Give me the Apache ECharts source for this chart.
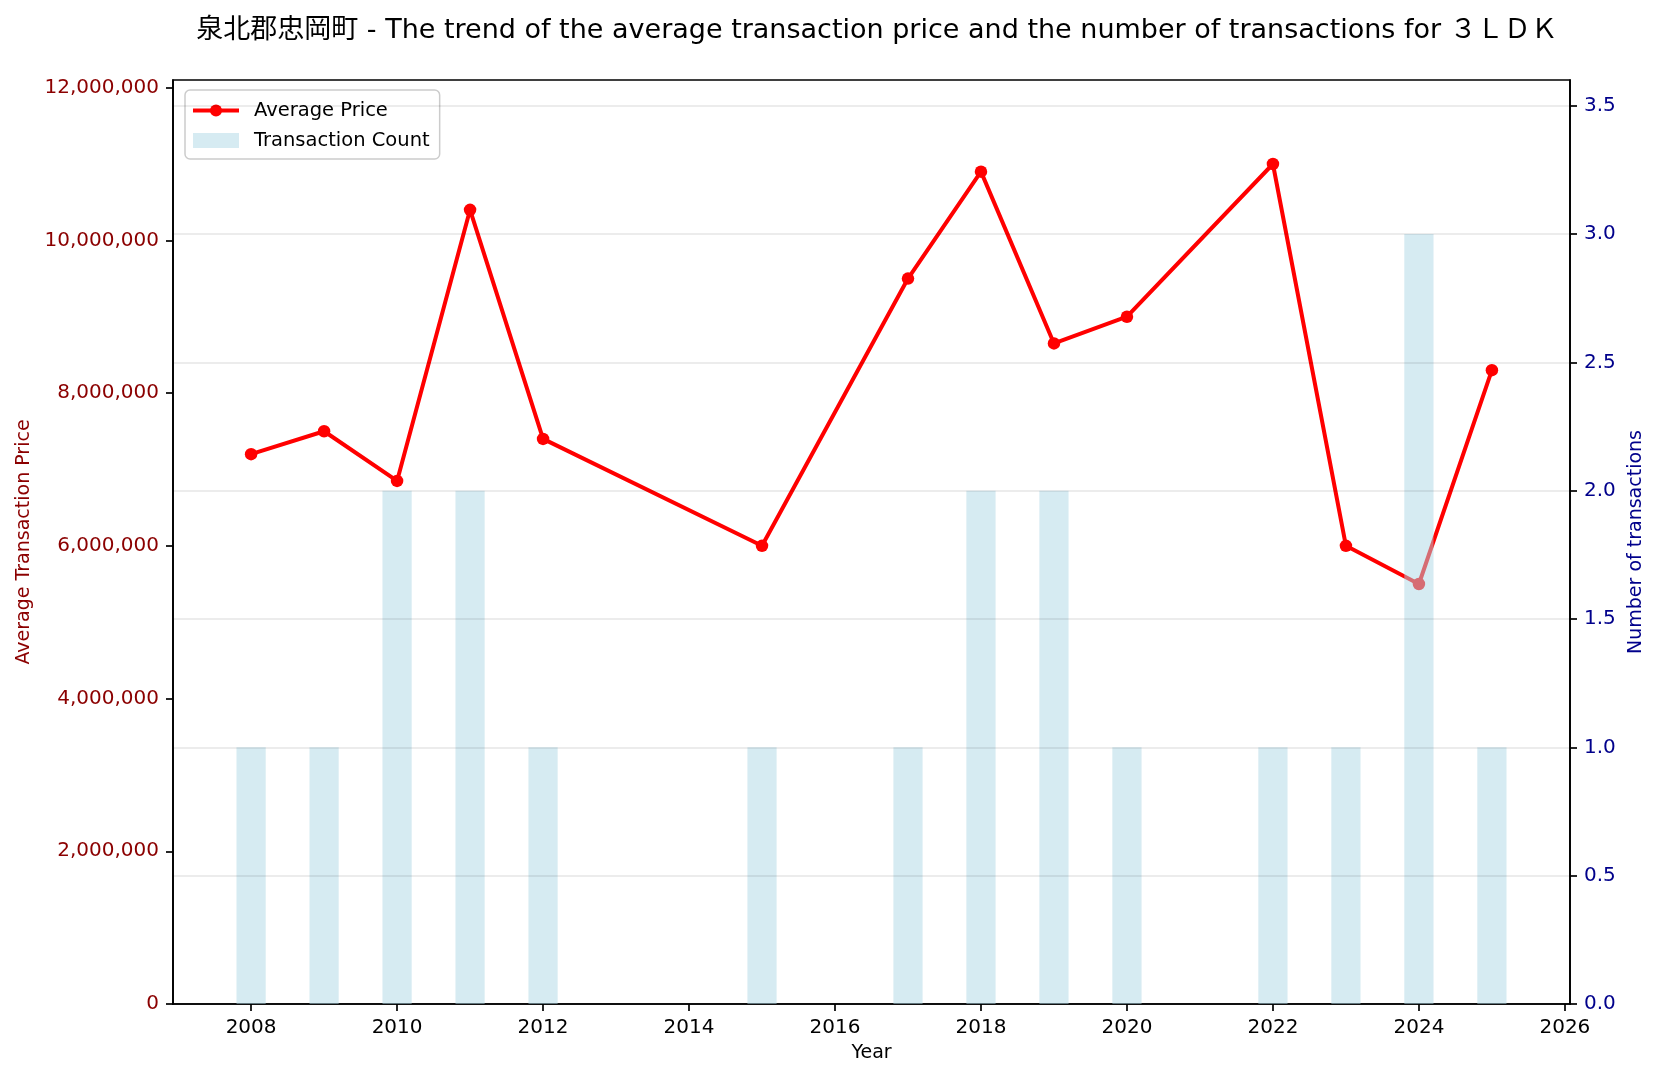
<!DOCTYPE html>
<html>
<head>
<meta charset="utf-8">
<style>
  html, body { margin: 0; padding: 0; background: #fff; }
  #chart { width: 1658px; height: 1082px; }
</style>
<script src="https://cdn.jsdelivr.net/npm/echarts@6/dist/echarts.min.js"></script>
</head>
<body>
<div id="chart"></div>
<script>
const years = [2008, 2009, 2010, 2011, 2012, 2015, 2017, 2018, 2019, 2020, 2022, 2023, 2024, 2025]
const avgPrice = [7200000, 7500000, 6850000, 10400000, 7400000, 6000000, 9500000, 10900000, 8650000, 9000000, 11000000, 6000000, 5500000, 8300000]
const txCount = [1, 1, 2, 2, 1, 1, 1, 2, 2, 1, 1, 1, 3, 1]
const yearTicks = [2008, 2010, 2012, 2014, 2016, 2018, 2020, 2022, 2024, 2026]
const priceTicks = [0, 2000000, 4000000, 6000000, 8000000, 10000000, 12000000]
const countTicks = [0, 0.5, 1, 1.5, 2, 2.5, 3, 3.5]

const font = '"DejaVu Sans", "Noto Sans CJK JP", sans-serif'
const grid = { left: 173, right: 88, top: 80, bottom: 78 }
const xMin = 2006.93
const xMax = 2026.07
const barWidth = 0.4 * (1658 - grid.left - grid.right) / (xMax - xMin)

const chart = echarts.init(document.getElementById('chart'))
chart.setOption({
  animation: false,
  textStyle: { fontFamily: font },
  title: {
    text: '泉北郡忠岡町 - The trend of the average transaction price and the number of transactions for ３ＬＤＫ',
    left: 872,
    top: 12,
    textAlign: 'center',
    textStyle: { fontFamily: font, fontSize: 27, fontWeight: 'normal', color: '#000' }
  },
  legend: {
    left: 185,
    top: 90,
    orient: 'vertical',
    padding: [10, 10, 8, 6],
    itemWidth: 46,
    itemHeight: 15,
    itemGap: 9,
    backgroundColor: 'rgba(255,255,255,0.8)',
    borderColor: '#cccccc',
    borderWidth: 1.5,
    borderRadius: 5,
    textStyle: { fontFamily: font, fontSize: 19.5, lineHeight: 21, color: '#000', padding: [0, 0, 0, 10] },
    data: [
      { name: 'Average Price', lineStyle: { width: 4 } },
      { name: 'Transaction Count', icon: 'rect' }
    ]
  },
  grid: { ...grid, show: true, borderColor: '#000', borderWidth: 1.7, backgroundColor: 'transparent' },
  xAxis: {
    type: 'value',
    min: xMin,
    max: xMax,
    name: 'Year',
    nameLocation: 'middle',
    nameGap: 40,
    nameTextStyle: { fontFamily: font, fontSize: 19, color: '#000' },
    axisLine: { onZero: false, lineStyle: { color: '#000', width: 1.7 } },
    axisTick: { show: true, length: 7, lineStyle: { color: '#000', width: 1.7 }, customValues: yearTicks },
    axisLabel: { margin: 14, fontSize: 20, color: '#000', customValues: yearTicks, formatter: v => String(v) },
    splitLine: { show: false }
  },
  yAxis: [
    {
      type: 'value',
      position: 'left',
      min: 0,
      max: 12100000,
      name: 'Average Transaction Price',
      nameLocation: 'middle',
      nameGap: 138,
      nameTextStyle: { fontFamily: font, fontSize: 19, color: '#8b0000' },
      axisLine: { show: true, lineStyle: { color: '#000', width: 1.7 } },
      axisTick: { show: true, length: 7, lineStyle: { color: '#000', width: 1.7 }, customValues: priceTicks },
      axisLabel: { margin: 14, fontSize: 20, color: '#8b0000', customValues: priceTicks,
        formatter: v => Number(v).toLocaleString('en-US') },
      splitLine: { show: false }
    },
    {
      type: 'value',
      position: 'right',
      min: 0,
      max: 3.6,
      name: 'Number of transactions',
      nameLocation: 'middle',
      nameGap: 52,
      nameTextStyle: { fontFamily: font, fontSize: 19, color: '#00008b' },
      axisLine: { show: true, lineStyle: { color: '#000', width: 1.7 } },
      axisTick: { show: true, length: 7, lineStyle: { color: '#000', width: 1.7 }, customValues: countTicks },
      axisLabel: { margin: 14, fontSize: 20, color: '#00008b', customValues: countTicks,
        formatter: v => Number(v).toFixed(1) },
      splitLine: { show: false }
    }
  ],
  series: [
    {
      name: 'Average Price',
      type: 'line',
      yAxisIndex: 0,
      z: 2,
      data: years.map((y, i) => [y, avgPrice[i]]),
      symbol: 'circle',
      symbolSize: 12.5,
      color: '#ff0000',
      lineStyle: { width: 4, color: '#ff0000' },
      itemStyle: { color: '#ff0000' }
    },
    {
      name: 'Transaction Count',
      type: 'bar',
      yAxisIndex: 1,
      z: 3,
      barWidth: barWidth,
      data: years.map((y, i) => [y, txCount[i]]),
      color: 'rgba(173,216,230,0.5)',
      itemStyle: { color: 'rgba(173,216,230,0.5)' },
      markLine: {
        silent: true,
        symbol: 'none',
        label: { show: false },
        lineStyle: { color: 'rgba(0,0,0,0.1)', type: 'solid', width: 1.7 },
        data: countTicks.slice(1).map(v => ({ yAxis: v }))
      }
    }
  ]
})
</script>
</body>
</html>
